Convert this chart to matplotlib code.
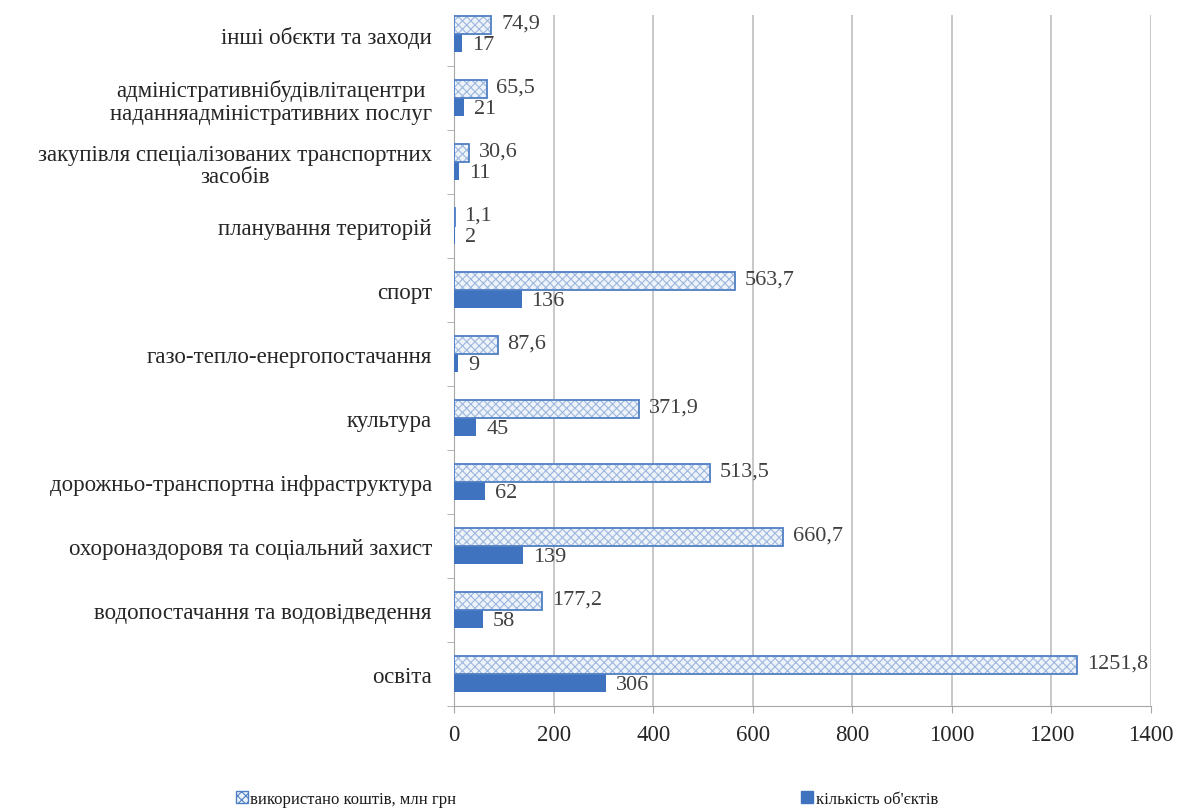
import matplotlib
matplotlib.use("Agg")
import matplotlib.pyplot as plt
from matplotlib.patches import Patch
import numpy as np

plt.rcParams['font.family'] = ['Liberation Serif', 'DejaVu Serif']
plt.rcParams['hatch.linewidth'] = 0.8

# Categories from bottom to top
categories = [
    "освіта",
    "водопостачання та водовідведення",
    "охороназдоровя та соціальний захист",
    "дорожньо-транспортна інфраструктура",
    "культура",
    "газо-тепло-енергопостачання",
    "спорт",
    "планування територій",
    "закупівля спеціалізованих транспортних\nзасобів",
    "адміністративнібудівлітацентри\nнаданняадміністративних послуг",
    "інші обєкти та заходи",
]
funds = [1251.8, 177.2, 660.7, 513.5, 371.9, 87.6, 563.7, 1.1, 30.6, 65.5, 74.9]
counts = [306, 58, 139, 62, 45, 9, 136, 2, 11, 21, 17]
xticks = [0, 200, 400, 600, 800, 1000, 1200, 1400]
legend_labels = ["використано коштів, млн грн", "кількість об'єктів"]

W, H = 1181, 812
fig = plt.figure(figsize=(W / 100, H / 100), dpi=100)
ax = fig.add_axes([454 / W, (H - 707) / H, (1151 - 454) / W, (707 - 16) / H])

y = np.arange(len(categories))
bh = 0.28
text_col = '#262626'

ax.barh(y + bh / 2, funds, height=bh, color='#EEF3FA', edgecolor='#9DB7DE',
        hatch='xxxx', linewidth=0, zorder=3)
ax.barh(y + bh / 2, funds, height=bh, fill=False, edgecolor='#4F7FC4',
        linewidth=1.3, zorder=4)
ax.barh(y - bh / 2, counts, height=bh, color='#3F72BF', linewidth=0, zorder=3)

for yi, v in zip(y, funds):
    ax.annotate(f"{v:.1f}".replace('.', ','), (v, yi + bh / 2), xytext=(7, 1.5),
                textcoords='offset points', va='center', ha='left',
                fontsize=16, color='#404040', zorder=5)
for yi, v in zip(y, counts):
    ax.annotate(f"{v}", (v, yi - bh / 2), xytext=(7, -1),
                textcoords='offset points', va='center', ha='left',
                fontsize=16, color='#404040', zorder=5)

ax.set_xlim(0, 1400)
ax.set_ylim(-0.5, 10.3)
ax.set_xticks(xticks)
ax.set_xticklabels([str(t) for t in xticks], fontsize=16.5, color=text_col)
ax.set_yticks(y)
ax.set_yticklabels(categories, fontsize=16.5, color=text_col, multialignment='center',
                   linespacing=1.1)
ax.set_yticks(np.arange(-0.5, 10.5, 1.0), minor=True)
ax.tick_params(axis='y', which='major', length=0, pad=16)
ax.tick_params(axis='y', which='minor', length=5, color='#A6A6A6', direction='out')
ax.tick_params(axis='x', length=5, color='#A6A6A6', pad=8)

ax.grid(axis='x', color='#BFBFBF', linewidth=1.2, zorder=0)
ax.set_axisbelow(True)
for s in ['top', 'right']:
    ax.spines[s].set_visible(False)
ax.spines['left'].set_color('#A6A6A6')
ax.spines['bottom'].set_color('#A6A6A6')

h1 = Patch(facecolor='#EEF3FA', edgecolor='#4F7FC4', hatch='xxxx', linewidth=1)
h2 = Patch(facecolor='#3F72BF', edgecolor='#3F72BF')
for h, lab, x0 in [(h1, legend_labels[0], 228), (h2, legend_labels[1], 793)]:
    leg = fig.legend([h], [lab], loc='center left', bbox_to_anchor=(x0 / W, (H - 800) / H),
                     frameon=False, fontsize=12, handlelength=0.7, handleheight=0.7,
                     handletextpad=0.15, borderpad=0)
    for t in leg.get_texts():
        t.set_color('#1a1a1a')

fig.savefig("out.png", dpi=100)
